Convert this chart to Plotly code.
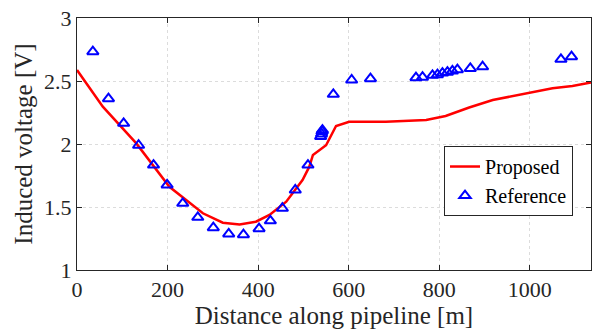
import plotly.graph_objects as go

# Proposed (red line)
prop_x = [0, 57, 131, 204, 278, 322, 359, 395, 425, 462, 498, 513, 521, 535, 550, 572, 601, 682, 771, 814, 866, 918, 977, 1050, 1094, 1138]
prop_y = [2.587, 2.296, 2.005, 1.66, 1.45, 1.375, 1.362, 1.383, 1.437, 1.542, 1.714, 1.82, 1.913, 1.952, 1.99, 2.143, 2.177, 2.177, 2.19, 2.222, 2.29, 2.349, 2.389, 2.442, 2.46, 2.49]

# Reference (blue triangles)
ref_x = [35, 69.5, 103, 136, 169, 199, 233.5, 266.7, 301, 335, 367.5, 402, 427, 453.5, 482, 510,
         538, 540, 541, 542, 566, 606.5, 648, 748.5, 763, 785, 796, 807, 818, 829, 840, 868.5, 895.6, 1068.6, 1092]
ref_y = [2.733, 2.36, 2.164, 1.99, 1.833, 1.675, 1.529, 1.418, 1.336, 1.286, 1.28, 1.328, 1.39, 1.49, 1.635, 1.833,
         2.06, 2.08, 2.10, 2.11, 2.394, 2.508, 2.518, 2.526, 2.53, 2.545, 2.55, 2.563, 2.57, 2.58, 2.59, 2.60, 2.613, 2.672, 2.693]

x_ticks = [0, 200, 400, 600, 800, 1000]
y_ticks = [1, 1.5, 2, 2.5, 3]
y_tick_text = ["1", "1.5", "2", "2.5", "3"]

FAM = "'Times New Roman', 'Liberation Serif', serif"

fig = go.Figure()
fig.add_trace(go.Scatter(x=prop_x, y=prop_y, mode="lines", name="Proposed",
                         line=dict(color="#ff0000", width=2.5)))
fig.add_trace(go.Scatter(x=ref_x, y=ref_y, mode="markers", name="Reference",
                         marker=dict(symbol="triangle-up-open", color="#0000ff", size=10,
                                     line=dict(width=2, color="#0000ff"))))

axis_common = dict(showline=True, linecolor="#262626", linewidth=1, mirror="ticks",
                   ticks="inside", ticklen=5, tickcolor="#262626",
                   showgrid=True, gridcolor="#dcdcdc", griddash="dot", gridwidth=1,
                   zeroline=False, automargin=False,
                   tickfont=dict(family=FAM, size=22, color="#262626"),
                   title_font=dict(family=FAM, size=25, color="#262626"))

fig.update_xaxes(range=[0, 1135], tickvals=x_ticks, title_text="Distance along pipeline [m]",
                 title_standoff=2, **axis_common)
fig.update_yaxes(range=[1, 3], tickvals=y_ticks, ticktext=y_tick_text,
                 title_text="Induced voltage [V]", title_standoff=4, **axis_common)

fig.update_layout(
    width=593, height=333,
    margin=dict(l=77, r=2, t=18, b=63),
    paper_bgcolor="white", plot_bgcolor="white",
    font=dict(family=FAM, color="black"),
    legend=dict(x=0.965, y=0.492, xanchor="right", yanchor="top",
                bordercolor="#262626", borderwidth=1, bgcolor="white",
                font=dict(family=FAM, size=20, color="black"), tracegroupgap=0, itemwidth=30),
    showlegend=True,
)

fig.write_html("out.html", config={"displayModeBar": False},
               post_script="document.body.style.margin='0';document.body.style.overflow='hidden';")
